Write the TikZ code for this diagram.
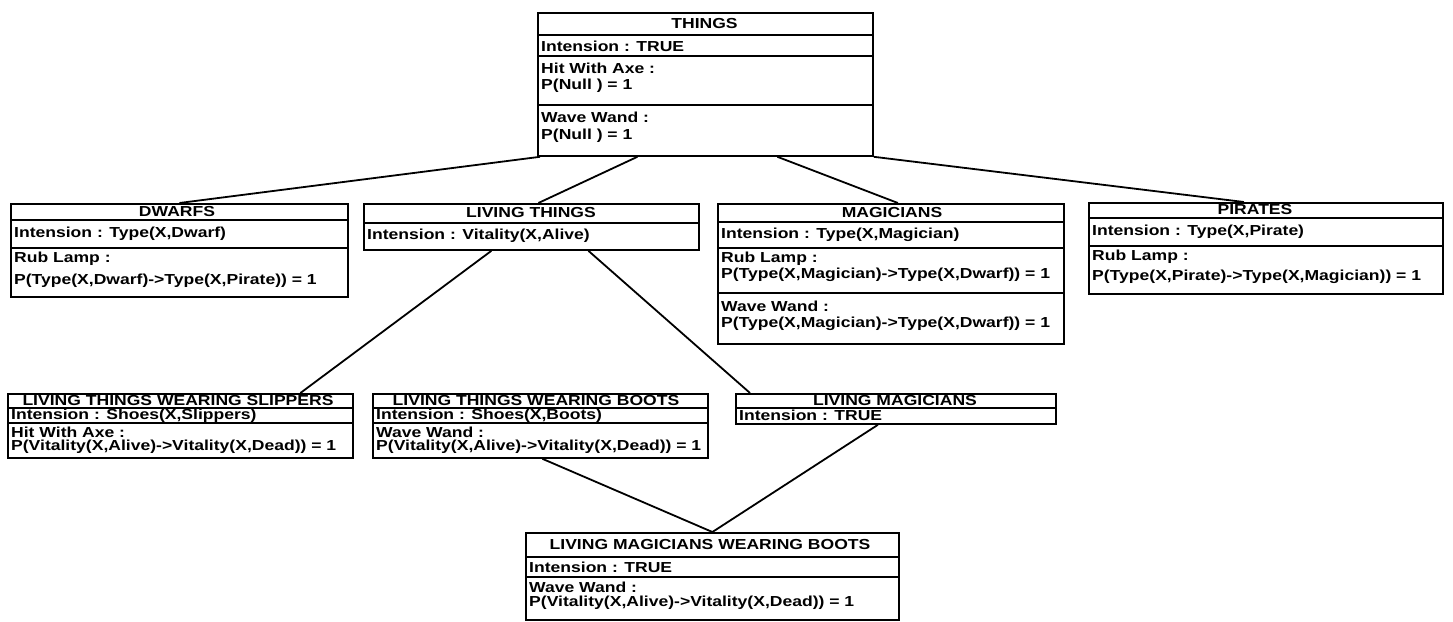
\documentclass[tikz,border=0pt]{standalone}
\usepackage{fontspec}
\usetikzlibrary{calc}
\newfontfamily\boxfont[FakeStretch=1.21]{Liberation Sans Bold}
\newcommand\rowsep[2]{\draw[umlline] (#1.west |- 0,#2) -- (#1.east |- 0,#2);}
\begin{document}
\begin{tikzpicture}[x=1pt,y=-1pt,
  umlline/.style={line width=1.8pt},
  umlbox/.style={draw, line width=1.8pt, rectangle, inner sep=0pt, anchor=north west},
  ttl/.style={inner sep=0pt, font={\boxfont\fontsize{14.5}{16}\selectfont}},
  lbl/.style={inner sep=0pt, anchor=west, font={\boxfont\fontsize{14.5}{16}\selectfont}},
  link/.style={line width=1.8pt}]
\useasboundingbox (0,0) rectangle (1453,621);

% THINGS
\node[umlbox, minimum width=335pt, minimum height=143pt] (things) at (537,12) {};
\rowsep{things}{35}\rowsep{things}{56}\rowsep{things}{105}
\node[ttl] (things-t) at (704.5,24) {THINGS};
\node[lbl] (things-i) at (541,46) {Intension : TRUE};
\node[lbl] (things-a1) at (541,68) {Hit With Axe :};
\node[lbl] (things-a2) at (541,86) {P(Null ) = 1};
\node[lbl] (things-w1) at (541,117) {Wave Wand :};
\node[lbl] (things-w2) at (541,136) {P(Null ) = 1};

% DWARFS
\node[umlbox, minimum width=337pt, minimum height=93pt] (dwarfs) at (10,203) {};
\rowsep{dwarfs}{220}\rowsep{dwarfs}{248}
\node[ttl] (dwarfs-t) at (177,212) {DWARFS};
\node[lbl] (dwarfs-i) at (14,234) {Intension : Type(X,Dwarf)};
\node[lbl] (dwarfs-r1) at (14,259) {Rub Lamp :};
\node[lbl] (dwarfs-r2) at (14,281) {P(Type(X,Dwarf)->Type(X,Pirate)) = 1};

% LIVING THINGS
\node[umlbox, minimum width=335pt, minimum height=46pt] (living) at (363,203) {};
\rowsep{living}{223}
\node[ttl] (living-t) at (531,213) {LIVING THINGS};
\node[lbl] (living-i) at (367,236) {Intension : Vitality(X,Alive)};

% MAGICIANS
\node[umlbox, minimum width=346pt, minimum height=140pt] (magic) at (717,203) {};
\rowsep{magic}{222}\rowsep{magic}{248}\rowsep{magic}{293}
\node[ttl] (magic-t) at (892,213) {MAGICIANS};
\node[lbl] (magic-i) at (721,235) {Intension : Type(X,Magician)};
\node[lbl] (magic-r1) at (721,259) {Rub Lamp :};
\node[lbl] (magic-r2) at (721,275) {P(Type(X,Magician)->Type(X,Dwarf)) = 1};
\node[lbl] (magic-w1) at (721,306) {Wave Wand :};
\node[lbl] (magic-w2) at (721,324) {P(Type(X,Magician)->Type(X,Dwarf)) = 1};

% PIRATES
\node[umlbox, minimum width=354pt, minimum height=91pt] (pirates) at (1088,202) {};
\rowsep{pirates}{218}\rowsep{pirates}{246}
\node[ttl] (pirates-t) at (1255,210) {PIRATES};
\node[lbl] (pirates-i) at (1092,232) {Intension : Type(X,Pirate)};
\node[lbl] (pirates-r1) at (1092,257) {Rub Lamp :};
\node[lbl] (pirates-r2) at (1092,277) {P(Type(X,Pirate)->Type(X,Magician)) = 1};

% LIVING THINGS WEARING SLIPPERS
\node[umlbox, minimum width=345pt, minimum height=64pt] (slip) at (7,393) {};
\rowsep{slip}{408}\rowsep{slip}{423}
\node[ttl] (slip-t) at (178,400.5) {LIVING THINGS WEARING SLIPPERS};
\node[lbl] (slip-i) at (11,415.5) {Intension : Shoes(X,Slippers)};
\node[lbl] (slip-a1) at (11,432) {Hit With Axe :};
\node[lbl] (slip-a2) at (11,447) {P(Vitality(X,Alive)->Vitality(X,Dead)) = 1};

% LIVING THINGS WEARING BOOTS
\node[umlbox, minimum width=335pt, minimum height=64pt] (boots) at (372,393) {};
\rowsep{boots}{408}\rowsep{boots}{423}
\node[ttl] (boots-t) at (536,400.5) {LIVING THINGS WEARING BOOTS};
\node[lbl] (boots-i) at (376,415.5) {Intension : Shoes(X,Boots)};
\node[lbl] (boots-w1) at (376,432) {Wave Wand :};
\node[lbl] (boots-w2) at (376,447) {P(Vitality(X,Alive)->Vitality(X,Dead)) = 1};

% LIVING MAGICIANS
\node[umlbox, minimum width=320pt, minimum height=30pt] (lmag) at (735,393) {};
\rowsep{lmag}{408}
\node[ttl] (lmag-t) at (895,400.5) {LIVING MAGICIANS};
\node[lbl] (lmag-i) at (739,415.5) {Intension : TRUE};

% LIVING MAGICIANS WEARING BOOTS
\node[umlbox, minimum width=373pt, minimum height=87pt] (lmwb) at (525,532) {};
\rowsep{lmwb}{557}\rowsep{lmwb}{577}
\node[ttl] (lmwb-t) at (710,545) {LIVING MAGICIANS WEARING BOOTS};
\node[lbl] (lmwb-i) at (529,567) {Intension : TRUE};
\node[lbl] (lmwb-w1) at (529,587) {Wave Wand :};
\node[lbl] (lmwb-w2) at (529,603) {P(Vitality(X,Alive)->Vitality(X,Dead)) = 1};

% connectors
\draw[link] ($(things.south west)+(3,0)$) -- (dwarfs.north);
\draw[link] ($(things.south)+(-68,0)$) -- ($(living.north)+(7,0)$);
\draw[link] ($(things.south)+(72,0)$) -- ($(magic.north)+(7,0)$);
\draw[link] (things.south east) -- ($(pirates.north)+(-22,0)$);
\draw[link] ($(living.south)+(-40,0)$) -- ($(slip.north)+(120,0)$);
\draw[link] ($(living.south)+(8,0)$) -- ($(living.south)+(8,0)$ |- boots.north);
\draw[link] ($(living.south)+(57,0)$) -- ($(lmag.north west)+(15,0)$);
\draw[link] ($(magic.south)+(7,0)$) -- ($(magic.south)+(7,0)$ |- lmag.north);
\draw[link] ($(boots.south)+(2,0)$) -- (lmwb.north);
\draw[link] ($(lmag.south)+(-18,0)$) -- (lmwb.north);
\end{tikzpicture}
\end{document}
